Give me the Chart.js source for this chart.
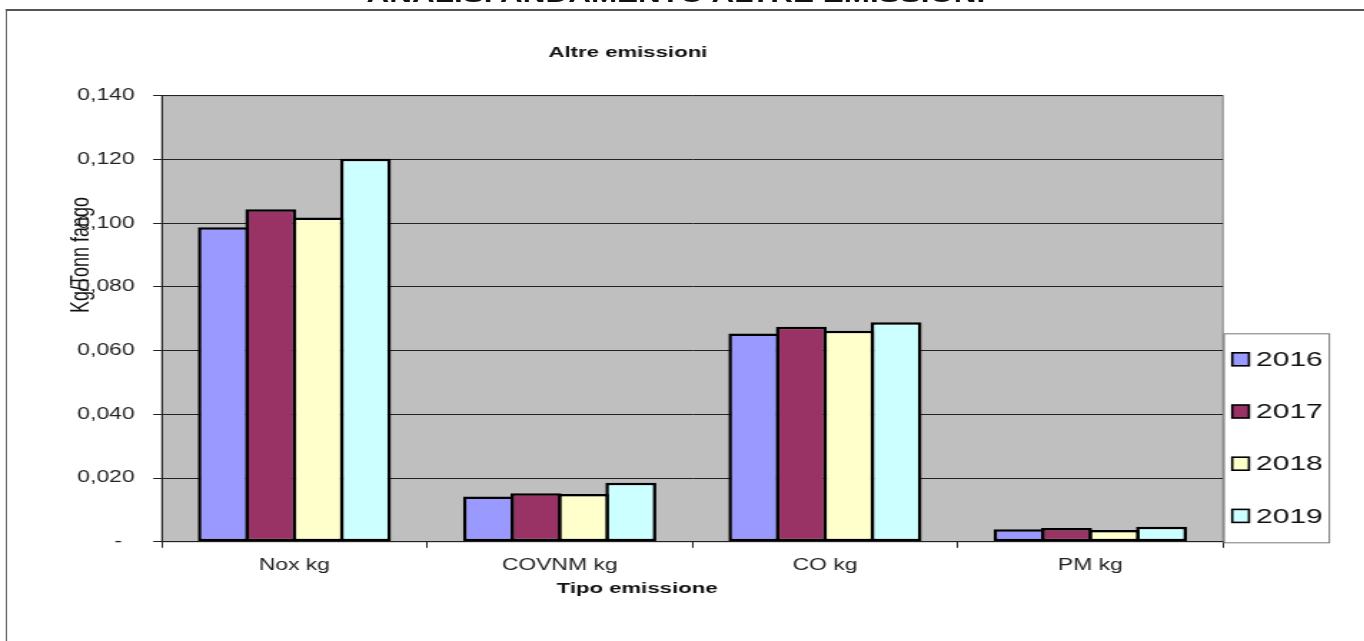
<!DOCTYPE html>
<html>
<head>
<meta charset="utf-8">
<script src="https://cdn.jsdelivr.net/npm/chart.js"></script>
<style>
  html, body { margin: 0; padding: 0; background: #fff; overflow: hidden; }
  /* the original picture is stretched sideways, so the whole page is too */
  #page { position: absolute; left: 0; top: 0; width: 954px; height: 641px; transform: scaleX(1.43); transform-origin: 0 0; }
  #frame { position: absolute; left: 4px; top: 9px; width: 1000px; height: 700px; border-top: 2px solid #555; border-left: 1.5px solid #666; }
  #heading { position: absolute; left: -4.3px; top: -16px; width: 954px; text-align: center; font: bold 22px 'Liberation Sans', Arial, sans-serif; line-height: 22px; color: #111; white-space: nowrap; }
  #chart { position: absolute; left: 0; top: 0; }
</style>
</head>
<body>
<div id="page">
  <div id="heading">ANALISI ANDAMENTO ALTRE EMISSIONI</div>
  <div id="frame"></div>
  <canvas id="chart" width="954" height="641"></canvas>
</div>
<script>
const categories = ['Nox kg', 'COVNM kg', 'CO kg', 'PM kg'];
const years = ['2016', '2017', '2018', '2019'];
const values2016 = [0.0987, 0.0142, 0.0654, 0.0039];
const values2017 = [0.1044, 0.0152, 0.0675, 0.0043];
const values2018 = [0.1018, 0.0150, 0.0662, 0.0037];
const values2019 = [0.1202, 0.0185, 0.0689, 0.0047];
const yMax = 0.14;
const yStep = 0.02;

const colors = ['#9999ff', '#993366', '#ffffcc', '#ccffff'];
const font = "'Liberation Sans', Arial, sans-serif";

// gray plot area with a thin frame, like the spreadsheet chart
const plotBackground = {
  id: 'plotBackground',
  beforeDraw(chart) {
    const { ctx, chartArea: a } = chart;
    ctx.save();
    ctx.fillStyle = '#bfbfbf';
    ctx.fillRect(a.left, a.top, a.right - a.left, a.bottom - a.top);
    ctx.strokeStyle = '#808080';
    ctx.lineWidth = 1;
    ctx.strokeRect(a.left, a.top, a.right - a.left, a.bottom - a.top);
    ctx.restore();
  }
};

// titles and the boxed legend at the lower right
const extras = {
  id: 'extras',
  afterDraw(chart) {
    const { ctx, chartArea: a } = chart;
    ctx.save();
    ctx.fillStyle = '#111';
    ctx.textAlign = 'center';
    ctx.textBaseline = 'middle';
    ctx.font = 'bold 15.5px ' + font;
    ctx.fillText('Altre emissioni', a.left + 326, a.top - 43);
    ctx.fillText('Tipo emissione', a.left + 332.4, a.bottom + 46.7);

    ctx.font = '18px ' + font;
    ctx.translate(a.left - 56, 255);
    ctx.rotate(-Math.PI / 2);
    ctx.fillText('Kg/Tonn fango', 0, 0);
    ctx.restore();

    const lx = a.right + 0.8, ly = a.bottom - 208;
    ctx.save();
    ctx.fillStyle = '#fff';
    ctx.fillRect(lx, ly, 73.6, 209);
    ctx.strokeStyle = '#777';
    ctx.lineWidth = 1;
    ctx.strokeRect(lx, ly, 73.6, 209);
    ctx.font = '21px ' + font;
    ctx.textBaseline = 'middle';
    chart.data.datasets.forEach((ds, i) => {
      const cy = a.bottom - 182.5 + i * 52.2;
      ctx.fillStyle = ds.backgroundColor;
      ctx.fillRect(a.right + 6.5, cy - 6.5, 11.7, 13);
      ctx.strokeStyle = '#000';
      ctx.lineWidth = 1.6;
      ctx.strokeRect(a.right + 6.5, cy - 6.5, 11.7, 13);
      ctx.fillStyle = '#111';
      ctx.fillText(ds.label, a.right + 23.1, cy + 1);
    });
    ctx.restore();
  }
};

const series = [values2016, values2017, values2018, values2019];

new Chart(document.getElementById('chart'), {
  type: 'bar',
  data: {
    labels: categories,
    datasets: series.map((vals, i) => ({
      label: years[i],
      data: vals,
      backgroundColor: colors[i],
      borderColor: '#000',
      borderWidth: 2.5,
      borderSkipped: false,
      categoryPercentage: 0.715,
      barPercentage: 1.074
    }))
  },
  options: {
    responsive: false,
    animation: false,
    devicePixelRatio: 1,
    layout: { padding: { left: 53.1, right: 98.8, top: 95.7, bottom: 59.2 } },
    plugins: {
      legend: { display: false },
      title: { display: false },
      tooltip: { enabled: false }
    },
    scales: {
      x: {
        afterFit(scale) { scale.height = 40; },
        grid: { offset: true, drawOnChartArea: false, drawTicks: true, tickLength: 6, color: '#222', lineWidth: 1 },
        border: { color: '#222', width: 1 },
        ticks: { color: '#222', padding: 8, font: { family: font, size: 16 } }
      },
      y: {
        min: 0,
        max: yMax,
        afterFit(scale) { scale.width = 60; },
        grid: { color: '#222', lineWidth: 1, tickLength: 6 },
        border: { color: '#222', width: 1 },
        ticks: {
          stepSize: yStep,
          color: '#222',
          padding: 13,
          font: { family: font, size: 16 },
          callback: (v) => v === 0 ? '-  ' : Number(v).toFixed(3).replace('.', ',')
        }
      }
    }
  },
  plugins: [plotBackground, extras]
});
</script>
</body>
</html>
